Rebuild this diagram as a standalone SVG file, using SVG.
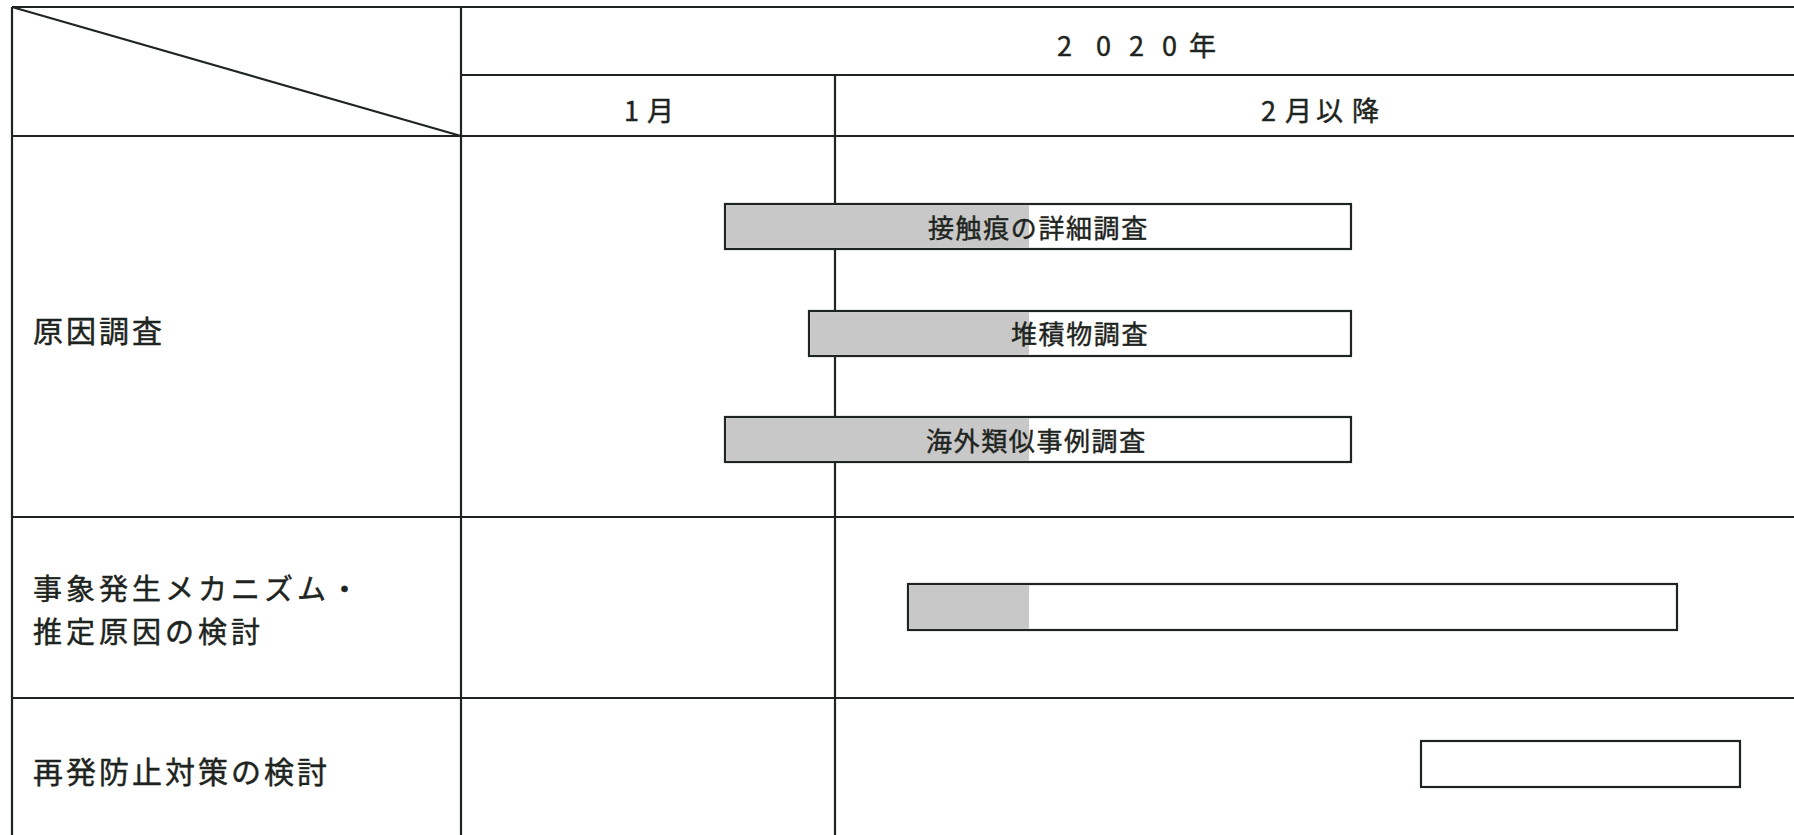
<svg xmlns="http://www.w3.org/2000/svg" width="1794" height="835" viewBox="0 0 1794 835">
  <style>
    .grid { stroke: #1e2420; stroke-width: 2.2; fill: none; }
    .bar { fill: #ffffff; stroke: #1e2420; stroke-width: 2.2; }
    .done { fill: #c8c8c8; stroke: none; }
    text { font-family: "Noto Sans CJK JP", "Noto Sans", sans-serif; fill: #1e2420; stroke: #1e2420; stroke-width: 0.45; }
    .hdr { font-size: 27px; }
    .row { font-size: 30px; letter-spacing: 3px; }
    .row2 { font-size: 29px; letter-spacing: 4px; }
    .lbl { font-size: 26px; letter-spacing: 1.6px; }
  </style>
  <rect x="0" y="0" width="1794" height="835" fill="#ffffff"/>

  <g id="table-lines" class="grid">
    <line x1="12" y1="7" x2="1794" y2="7"/>
    <line x1="12" y1="7" x2="12" y2="835"/>
    <line x1="461" y1="7" x2="461" y2="835"/>
    <line x1="835" y1="75" x2="835" y2="835"/>
    <line x1="461" y1="75" x2="1794" y2="75"/>
    <line x1="12" y1="136" x2="1794" y2="136"/>
    <line x1="12" y1="517" x2="1794" y2="517"/>
    <line x1="12" y1="698" x2="1794" y2="698"/>
    <line x1="12" y1="7" x2="461" y2="136"/>
  </g>

  <g id="header-year">
    <text class="hdr" x="1057 1096 1129 1162 1189" y="56">2020年</text>
  </g>
  <g id="header-jan">
    <text class="hdr" x="624 647" y="121">1月</text>
  </g>
  <g id="header-feb">
    <text class="hdr" x="1261 1285 1316 1352" y="121">2月以降</text>
  </g>

  <g id="row-cause">
    <text class="row" x="33" y="342">原因調査</text>
  </g>
  <g id="row-mechanism">
    <text class="row2"><tspan x="33" y="600">事象発生メカニズム・</tspan><tspan x="33" y="643">推定原因の検討</tspan></text>
  </g>
  <g id="row-prevention">
    <text class="row" x="33" y="783">再発防止対策の検討</text>
  </g>

  <g id="bar-contact">
    <rect class="bar" x="725" y="204" width="626" height="45"/>
    <rect class="done" x="726.1" y="205.1" width="303" height="42.8"/>
    <text class="lbl" x="928" y="238">接触痕の詳細調査</text>
  </g>
  <g id="bar-deposit">
    <rect class="bar" x="809" y="311" width="542" height="45"/>
    <rect class="done" x="810.1" y="312.1" width="219" height="42.8"/>
    <text class="lbl" x="1011" y="344">堆積物調査</text>
  </g>
  <g id="bar-overseas">
    <rect class="bar" x="725" y="417" width="626" height="45"/>
    <rect class="done" x="726.1" y="418.1" width="303" height="42.8"/>
    <text class="lbl" x="926" y="451">海外類似事例調査</text>
  </g>
  <g id="bar-mechanism">
    <rect class="bar" x="908" y="584" width="769" height="46"/>
    <rect class="done" x="909.1" y="585.1" width="120" height="43.8"/>
  </g>
  <g id="bar-prevention">
    <rect class="bar" x="1421" y="741" width="319" height="46"/>
  </g>

  <g id="connectors"></g>
</svg>
